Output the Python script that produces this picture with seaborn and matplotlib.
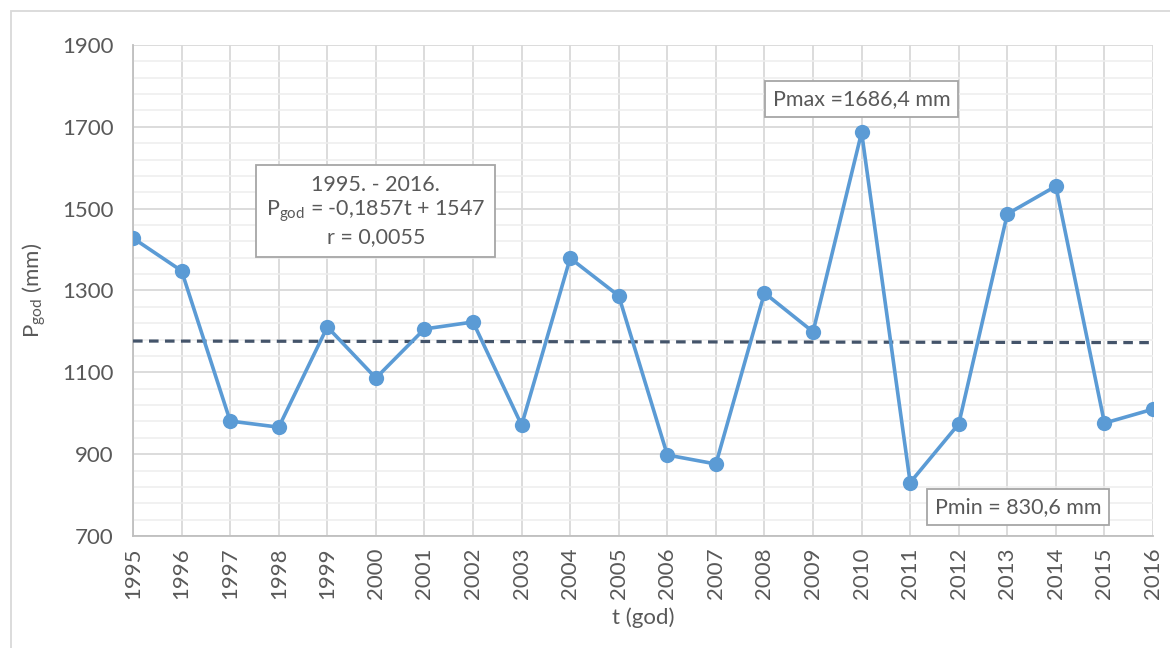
import numpy as np
import pandas as pd
import seaborn as sns
import matplotlib.pyplot as plt
from matplotlib.patches import Rectangle

years = list(range(1995, 2017))
p_god = [1428, 1348, 981, 966, 1211, 1086, 1206, 1223, 971, 1379, 1287,
         898, 876, 1294, 1199, 1686.4, 830.6, 974, 1487, 1555, 976, 1010]
y_ticks = [700, 900, 1100, 1300, 1500, 1700, 1900]
trend_slope = -0.1857
trend_intercept = 1547

df = pd.DataFrame({"t": years, "P": p_god})
df["trend"] = trend_slope * df["t"] + trend_intercept

sns.set_theme(style="whitegrid")
plt.rcParams["font.family"] = ["Lato", "DejaVu Sans"]
text_col = "#595959"

fig = plt.figure(figsize=(11.7, 6.48), dpi=100)
ax = fig.add_axes([0.1137, 0.1728, 0.8718, 0.7578])

sns.lineplot(data=df, x="t", y="trend", ax=ax, color="#44546A", lw=2.3,
             linestyle=(0, (3, 2)), zorder=3)
sns.lineplot(data=df, x="t", y="P", ax=ax, color="#5B9BD5", lw=2.6,
             marker="o", markersize=11, markeredgewidth=0, zorder=4)

ax.set_xlim(1995, 2016)
ax.set_ylim(700, 1900)
ax.set_xticks(years)
ax.set_xticklabels([str(y) for y in years], rotation=90)
ax.set_yticks(y_ticks)
ax.set_yticks(np.arange(700, 1901, 40), minor=True)
ax.grid(which="major", color="#D9D9D9", lw=1.3)
ax.grid(which="minor", axis="y", color="#EDEDED", lw=1.1)
ax.set_facecolor("white")
for s in ["top", "right"]:
    ax.spines[s].set_visible(False)
for s in ["left", "bottom"]:
    ax.spines[s].set_color("#BFBFBF")
    ax.spines[s].set_linewidth(1.3)
ax.tick_params(axis="both", which="both", length=0, labelsize=16, colors=text_col)
ax.tick_params(axis="y", pad=14)
ax.tick_params(axis="x", pad=8)

ax.set_xlabel("t (god)", fontsize=16, color=text_col, labelpad=6)
ax.set_ylabel(r"P$_{\mathregular{god}}$ (mm)", fontsize=16, color=text_col, labelpad=10)

box = dict(boxstyle="square,pad=0.35", facecolor="white", edgecolor="#A6A6A6", lw=1.3)
ax.text(2000.0, 1494, "1995. - 2016.\n" + r"P$_{\mathregular{god}}$ = -0,1857t + 1547" + "\nr = 0,0055",
        ha="center", va="center", fontsize=15.5, color=text_col, linespacing=1.2,
        bbox=dict(boxstyle="square,pad=0.45", facecolor="white", edgecolor="#A6A6A6", lw=1.3),
        zorder=6)
ax.text(2010.0, 1768, "Pmax =1686,4 mm", ha="center", va="center", fontsize=15.5,
        color=text_col, bbox=box, zorder=6)
ax.text(2013.22, 771, "Pmin = 830,6 mm", ha="center", va="center", fontsize=15.5,
        color=text_col, bbox=box, zorder=6)

fig.add_artist(Rectangle((0.0094, -0.05), 1.2, 0.983 + 0.05, transform=fig.transFigure,
                         fill=False, edgecolor="#D9D9D9", lw=1.3))

fig.savefig("out.png", dpi=100)
